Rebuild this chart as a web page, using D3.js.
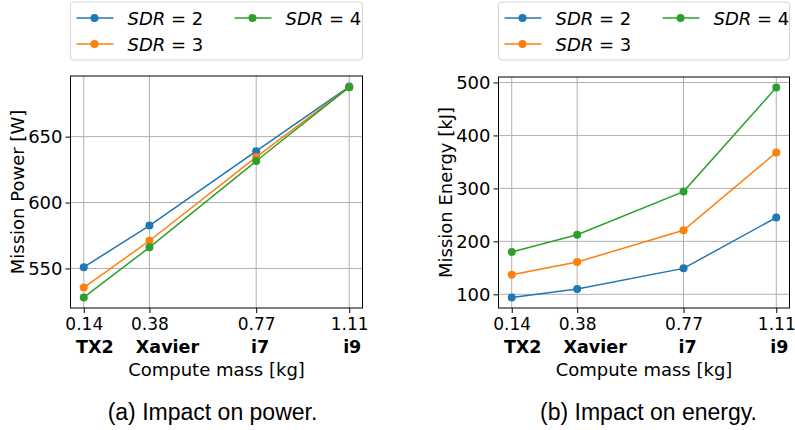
<!DOCTYPE html>
<html>
<head>
<meta charset="utf-8">
<script src="https://cdn.jsdelivr.net/npm/d3@7"></script>
<style>
  body { margin: 0; background: #fff; }
  svg text { font-family: "DejaVu Sans", sans-serif; fill: #000; }
</style>
</head>
<body>
<div id="vis"></div>
<script>
// data
const massKg = [0.14, 0.38, 0.77, 1.11];
const computeNames = ["TX2", "Xavier", "i7", "i9"];
const sdrLevels = [2, 3, 4];
const powerSdr2 = [551, 582.5, 639, 688];
const powerSdr3 = [535.5, 571, 634.5, 687.5];
const powerSdr4 = [528, 566, 631.5, 687.5];
const energySdr2 = [94, 110, 149, 245];
const energySdr3 = [137, 161, 221, 368];
const energySdr4 = [180, 212.5, 294, 490.5];
const powerTicks = [550, 600, 650];
const energyTicks = [100, 200, 300, 400, 500];

const colors = ["#1f77b4", "#ff7f0e", "#2ca02c"];
// the bold names sit a bit right of their ticks in the original
const nameShift = [11, 18, 4, 3];
const fs = "18px";
const tickFs = "17px";

const svg = d3.select("#vis").append("svg")
    .attr("width", 795)
    .attr("height", 430);

// matplotlib style 5% margins
function padded(lo, hi) {
    const m = (hi - lo) * 0.05;
    return [lo - m, hi + m];
}

function panel(opts) {
    const {left, right, top, bottom, series, yTicks, yLabel, caption, captionX} = opts;
    const g = svg.append("g");

    const x = d3.scaleLinear()
        .domain(padded(d3.min(massKg), d3.max(massKg)))
        .range([left, right]);
    const all = series.flat();
    const y = d3.scaleLinear()
        .domain(padded(d3.min(all), d3.max(all)))
        .range([bottom, top]);

    // grid
    g.append("g").selectAll("line").data(massKg).enter().append("line")
        .attr("x1", d => x(d)).attr("x2", d => x(d))
        .attr("y1", top).attr("y2", bottom)
        .attr("stroke", "#b0b0b0").attr("stroke-width", 1);
    g.append("g").selectAll("line").data(yTicks).enter().append("line")
        .attr("x1", left).attr("x2", right)
        .attr("y1", d => y(d)).attr("y2", d => y(d))
        .attr("stroke", "#b0b0b0").attr("stroke-width", 1);

    // x axis
    const xAxis = g.append("g")
        .attr("transform", "translate(0," + bottom + ")")
        .call(d3.axisBottom(x).tickValues(massKg).tickSize(5).tickPadding(4)
            .tickFormat(d3.format(".2f")));
    xAxis.select(".domain").remove();
    xAxis.selectAll("text").style("font-size", tickFs).attr("dy", "0.74em");
    xAxis.selectAll("line").attr("stroke", "#000");

    // bold compute names under the ticks
    g.append("g").selectAll("text").data(computeNames).enter().append("text")
        .attr("x", (d, i) => x(massKg[i]) + nameShift[i])
        .attr("y", bottom + 45)
        .attr("text-anchor", "middle")
        .style("font-size", "17.5px")
        .style("font-weight", "bold")
        .text(d => d);

    g.append("text")
        .attr("x", (left + right) / 2)
        .attr("y", bottom + 68)
        .attr("text-anchor", "middle")
        .style("font-size", fs)
        .text("Compute mass [kg]");

    // y axis
    const yAxis = g.append("g")
        .attr("transform", "translate(" + left + ",0)")
        .call(d3.axisLeft(y).tickValues(yTicks).tickSize(5).tickPadding(3));
    yAxis.select(".domain").remove();
    yAxis.selectAll("text").style("font-size", fs);
    yAxis.selectAll("line").attr("stroke", "#000");

    g.append("text")
        .attr("transform", "translate(" + (left - 47) + "," + ((top + bottom) / 2) + ") rotate(-90)")
        .attr("text-anchor", "middle")
        .style("font-size", fs)
        .text(yLabel);

    // lines + markers
    const line = d3.line().x((d, i) => x(massKg[i])).y(d => y(d));
    series.forEach((s, k) => {
        g.append("path")
            .datum(s)
            .attr("d", line)
            .attr("fill", "none")
            .attr("stroke", colors[k])
            .attr("stroke-width", 1.5);
        g.append("g").selectAll("circle").data(s).enter().append("circle")
            .attr("cx", (d, i) => x(massKg[i]))
            .attr("cy", d => y(d))
            .attr("r", 4)
            .attr("fill", colors[k]);
    });

    // frame
    g.append("rect")
        .attr("x", left).attr("y", top)
        .attr("width", right - left).attr("height", bottom - top)
        .attr("fill", "none").attr("stroke", "#000").attr("stroke-width", 1);

    // legend
    const lg = g.append("g").attr("transform", "translate(" + left + ",2)");
    lg.append("rect")
        .attr("x", 0).attr("y", 0)
        .attr("width", right - left).attr("height", 58)
        .attr("rx", 3)
        .attr("fill", "#fff").attr("stroke", "#d6d6d6");
    const slots = [[0, 16], [0, 42], [158, 16]];
    sdrLevels.forEach((lvl, k) => {
        const [ox, oy] = slots[k];
        lg.append("line")
            .attr("x1", ox + 6).attr("x2", ox + 43)
            .attr("y1", oy).attr("y2", oy)
            .attr("stroke", colors[k]).attr("stroke-width", 1.5);
        lg.append("circle")
            .attr("cx", ox + 24).attr("cy", oy).attr("r", 4)
            .attr("fill", colors[k]);
        const t = lg.append("text")
            .attr("x", ox + 57).attr("y", oy + 6.5)
            .style("font-size", fs);
        t.append("tspan").style("font-style", "italic").text("SDR");
        t.append("tspan").text(" = " + lvl);
    });

    svg.append("text")
        .attr("x", captionX)
        .attr("y", 420)
        .attr("text-anchor", "middle")
        .style("font-family", "'Liberation Sans', Arial, sans-serif")
        .style("font-size", "23px")
        .text(caption);
}

panel({
    left: 70.5, right: 362.5, top: 76, bottom: 308,
    series: [powerSdr2, powerSdr3, powerSdr4],
    yTicks: powerTicks,
    yLabel: "Mission Power [W]",
    caption: "(a) Impact on power.",
    captionX: 212.5
});

panel({
    left: 498.5, right: 789.5, top: 77, bottom: 308,
    series: [energySdr2, energySdr3, energySdr4],
    yTicks: energyTicks,
    yLabel: "Mission Energy [kJ]",
    caption: "(b) Impact on energy.",
    captionX: 648.5
});
</script>
</body>
</html>
